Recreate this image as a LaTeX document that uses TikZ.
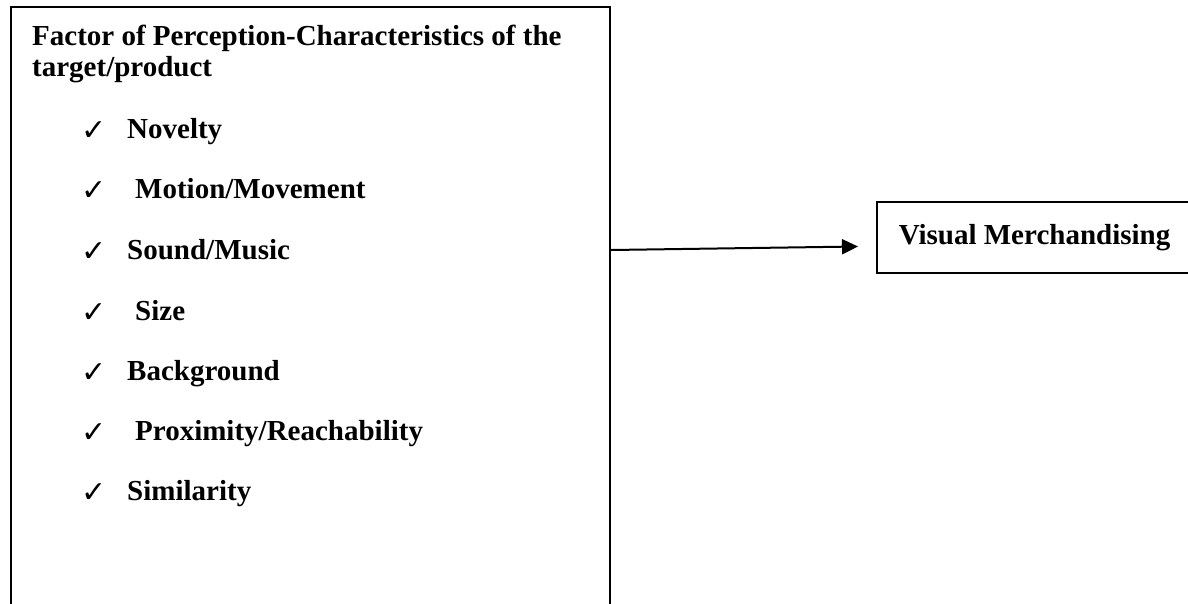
\documentclass[tikz,border=0pt]{standalone}
\usepackage{fontspec}
\setmainfont{Liberation Serif}
\newfontfamily\symfont{DejaVu Sans}
\usetikzlibrary{arrows.meta}
\tikzset{
  frame/.style={draw=black, line width=2pt, rectangle, inner sep=0pt},
  title/.style={anchor=base west, inner sep=0pt, font=\fontsize{29}{33}\selectfont\bfseries},
  item/.style={anchor=base west, inner sep=0pt, font=\fontsize{29}{33}\selectfont\bfseries},
  tick/.style={anchor=base west, inner sep=0pt, font=\symfont\fontsize{30}{34}\selectfont},
  conn/.style={draw=black, line width=2pt, -{Triangle[length=16pt,width=15pt]}}
}
\begin{document}
\begin{tikzpicture}[x=1pt,y=-1pt]
\useasboundingbox (0,0) rectangle (1188,603);
\clip (0,0) rectangle (1188,603);
\fill[white] (0,0) rectangle (1188,603);
% left box
\node[frame, minimum width=599pt, minimum height=693pt] (left) at (310.5,353.5) {};
% right box
\node[frame, minimum width=315pt, minimum height=71pt, font=\fontsize{29}{33}\selectfont\bfseries] (vm) at (1034.5,237.5) {Visual Merchandising};
% title
\node[title] (t1) at (32,45) {Factor of Perception-Characteristics of the};
\node[title] (t2) at (32,76) {target/product};
% items
\foreach \y/\txt/\dx [count=\i] in {138/Novelty/0, 198/Motion\slash Movement/8, 259/Sound\slash Music/0, 320/Size/8, 380/Background/0, 440/Proximity\slash Reachability/8, 500/Similarity/0}{
  \node[tick] (c\i) at (81,\y+2) {✓};
  \node[item] (i\i) at (127+\dx,\y) {\txt};
}
% connector
\coordinate (a) at (left.north east |- 0,250);
\coordinate (b) at (858,246.5);
\draw[conn] (a) -- (b);
\end{tikzpicture}
\end{document}
